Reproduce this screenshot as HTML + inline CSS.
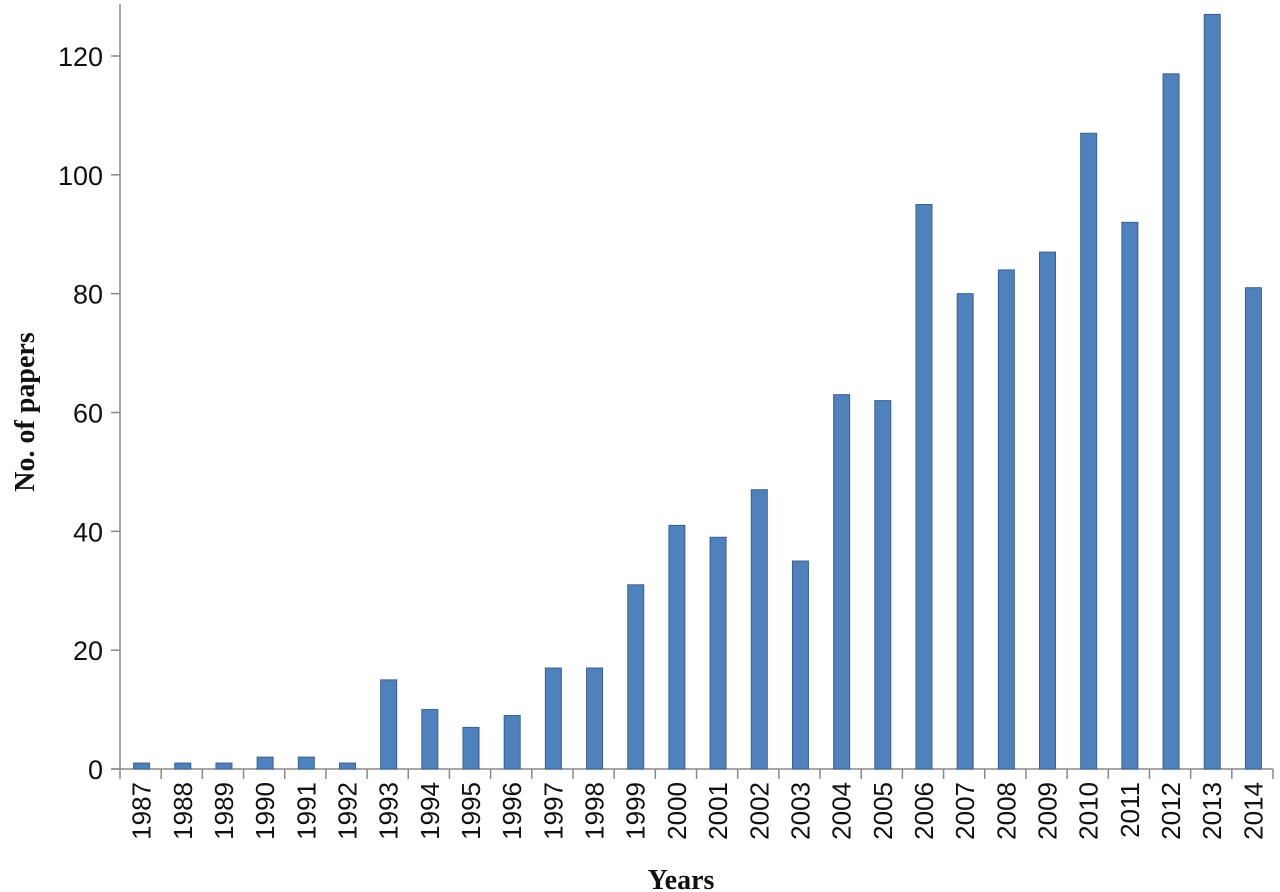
<!DOCTYPE html>
<html><head><meta charset="utf-8"><style>
body{margin:0;background:#fff;}
svg{display:block;}
text{font-family:"Liberation Sans",sans-serif;fill:#111;}
</style></head><body>
<svg id="chart" width="1280" height="892" viewBox="0 0 1280 892"></svg>
<script>
const years=[1987,1988,1989,1990,1991,1992,1993,1994,1995,1996,1997,1998,1999,2000,2001,2002,2003,2004,2005,2006,2007,2008,2009,2010,2011,2012,2013,2014];
const papers=[1,1,1,2,2,1,15,10,7,9,17,17,31,41,39,47,35,63,62,95,80,84,87,107,92,117,127,81];
const yTicks=[0,20,40,60,80,100,120];
const NS='http://www.w3.org/2000/svg';
const svg=document.getElementById('chart');
const x0=120,x1=1273,y0=769,yTop=56;
const step=(x1-x0)/years.length;
const ys=v=>y0-(v/120)*(y0-yTop);
const xs=i=>x0+step*(i+0.5)+1;
function mk(t,a){const e=document.createElementNS(NS,t);for(const k in a)e.setAttribute(k,a[k]);svg.appendChild(e);return e;}
const ya=mk('line',{x1:x0,y1:4,x2:x0,y2:y0,stroke:'#888','stroke-width':1.5});


yTicks.forEach(v=>{
  const t=mk('line',{x1:x0-9,y1:ys(v),x2:x0,y2:ys(v),stroke:'#888','stroke-width':1.5});
  
  
  const l=mk('text',{x:x0-17,y:ys(v)+10,'text-anchor':'end','font-size':27});
  l.textContent=v;
  
  
});
const xa=mk('line',{x1:x0-9,y1:y0,x2:x1,y2:y0,stroke:'#888','stroke-width':1.5});


for(let i=0;i<=years.length;i++){
  const t=mk('line',{x1:x0+step*i,y1:y0,x2:x0+step*i,y2:y0+10,stroke:'#888','stroke-width':1.5});
  
  
}
years.forEach((yr,i)=>{
  const b=mk('rect',{x:xs(i)-8,y:ys(papers[i]),width:16,height:y0-ys(papers[i]),fill:'#4f81bd',stroke:'#3b5f8c','stroke-width':1});
  
  
  const l=mk('text',{x:0,y:0,'text-anchor':'end','font-size':26,transform:'translate('+(xs(i)+9)+','+(y0+13)+') rotate(-90)'});
  l.textContent=yr;
  
  
});
const xt=mk('text',{x:681,y:889,'text-anchor':'middle','font-size':28,'font-weight':'bold',style:'font-family:"Liberation Serif",serif'});
xt.textContent='Years';


const yt=mk('text',{x:0,y:0,'text-anchor':'middle','font-size':28,'font-weight':'bold',style:'font-family:"Liberation Serif",serif',transform:'translate(34,412) rotate(-90)'});
yt.textContent='No. of papers';


</script>
</body></html>
